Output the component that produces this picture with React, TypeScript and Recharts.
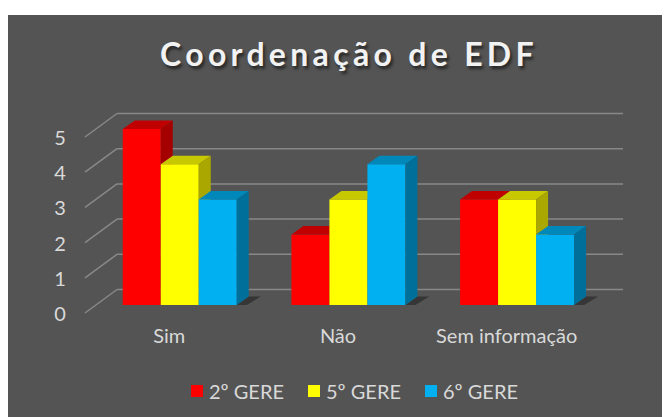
import React from "react";
import { BarChart, Bar, XAxis, YAxis, CartesianGrid, Legend } from "recharts";

const categories = ["Sim", "Não", "Sem informação"];
const gere2 = [5, 2, 3];
const gere5 = [4, 3, 3];
const gere6 = [3, 4, 2];
const yTicks = [0, 1, 2, 3, 4, 5];

const series = [
  { key: "g2", name: "2º GERE", values: gere2, front: "#ff0000", top: "#c00000", side: "#a50000" },
  { key: "g5", name: "5º GERE", values: gere5, front: "#ffff00", top: "#c8c800", side: "#aaa800" },
  { key: "g6", name: "6º GERE", values: gere6, front: "#00b0f0", top: "#0088bb", side: "#006f99" },
];

const data = categories.map((c, i) => ({
  name: c,
  g2: gere2[i],
  g5: gere5[i],
  g6: gere6[i],
}));

const W = 662;
const H = 402;
const FONT = "Lato, 'Open Sans', sans-serif";
// 3D depth of a bar and offsets of the wall / front plane
const DX = 12;
const DY = 8.5;

function make3D(s: any, last: boolean) {
  return (props: any) => {
    const { x, y, width, height } = props;
    if (height == null || width == null) return <g />;
    const bx = x + width;
    const by = y + height;
    return (
      <g>
        {last && (
          <polygon
            points={`${bx},${by} ${bx + DX},${by - DY} ${bx + DX + 12},${by - DY} ${bx + 10},${by}`}
            fill="#2a2a2a"
            opacity={0.7}
          />
        )}
        <rect x={x} y={y} width={width} height={height} fill={s.front} />
        <polygon
          points={`${x},${y} ${x + DX},${y - DY} ${bx + DX},${y - DY} ${bx},${y}`}
          fill={s.top}
        />
        <polygon
          points={`${bx},${y} ${bx + DX},${y - DY} ${bx + DX},${by - DY} ${bx},${by}`}
          fill={s.side}
        />
      </g>
    );
  };
}

function gridLine(p: any) {
  const c = "#888888";
  return (
    <g key={p.key}>
      <line x1={p.x1 - 10} y1={p.y1 + 8} x2={p.x1 + 22} y2={p.y1 - 15.5} stroke={c} strokeWidth={1.5} />
      <line x1={p.x1 + 22} y1={p.y1 - 15.5} x2={p.x2 + 22} y2={p.y1 - 15.5} stroke={c} strokeWidth={1.5} />
    </g>
  );
}

function YTick(props: any) {
  const { y, payload } = props;
  return (
    <text x={52} y={y + 9} dy="0.35em" textAnchor="middle" fill="#d9d9d9" fontSize={20} fontFamily={FONT}>
      {payload.value}
    </text>
  );
}

function XTick(props: any) {
  const { x, y, payload } = props;
  return (
    <text x={x - 10} y={y + 30} textAnchor="middle" fill="#d9d9d9" fontSize={20} fontFamily={FONT}>
      {payload.value}
    </text>
  );
}

function LegendContent() {
  return (
    <div style={{ display: "flex", alignItems: "center", fontFamily: FONT, fontSize: 20, color: "#d9d9d9" }}>
      {series.map((s) => (
        <div key={s.key} style={{ display: "flex", alignItems: "center", marginRight: 24 }}>
          <span style={{ display: "inline-block", width: 12, height: 12, background: s.front, marginRight: 6 }} />
          <span style={{ lineHeight: "20px" }}>{s.name}</span>
        </div>
      ))}
    </div>
  );
}

export default function App() {
  return (
    <div
      style={{
        position: "relative",
        width: W,
        height: H,
        marginTop: 7,
        background: "#545454",
        fontFamily: FONT,
      }}
    >
      <div
        style={{
          position: "absolute",
          top: 23,
          left: 10,
          width: W,
          textAlign: "center",
          fontSize: 32,
          lineHeight: "32px",
          fontWeight: 700,
          letterSpacing: 4.3,
          color: "#f2f2f2",
          textShadow: "2px 3px 3px rgba(0,0,0,0.55)",
        }}
      >
        Coordenação de EDF
      </div>
      <BarChart
        width={W}
        height={H}
        data={data}
        margin={{ top: 114, right: 69, bottom: 82, left: 0 }}
        barCategoryGap={27.75}
        barGap={0}
        style={{ position: "absolute", top: 0, left: 0 }}
      >
        <CartesianGrid vertical={false} horizontal={gridLine} />
        <XAxis dataKey="name" axisLine={false} tickLine={false} tick={<XTick />} interval={0} />
        <YAxis
          width={87}
          domain={[0, 5]}
          ticks={yTicks}
          axisLine={false}
          tickLine={false}
          tick={<YTick />}
        />
        <Legend
          layout="horizontal"
          verticalAlign="middle"
          align="center"
          content={<LegendContent />}
          wrapperStyle={{ position: "absolute", top: 366, left: 183, width: "auto" }}
        />
        {series.map((s, i) => (
          <Bar
            key={s.key}
            dataKey={s.key}
            name={s.name}
            fill={s.front}
            isAnimationActive={false}
            shape={make3D(s, i === series.length - 1)}
          />
        ))}
      </BarChart>
    </div>
  );
}
